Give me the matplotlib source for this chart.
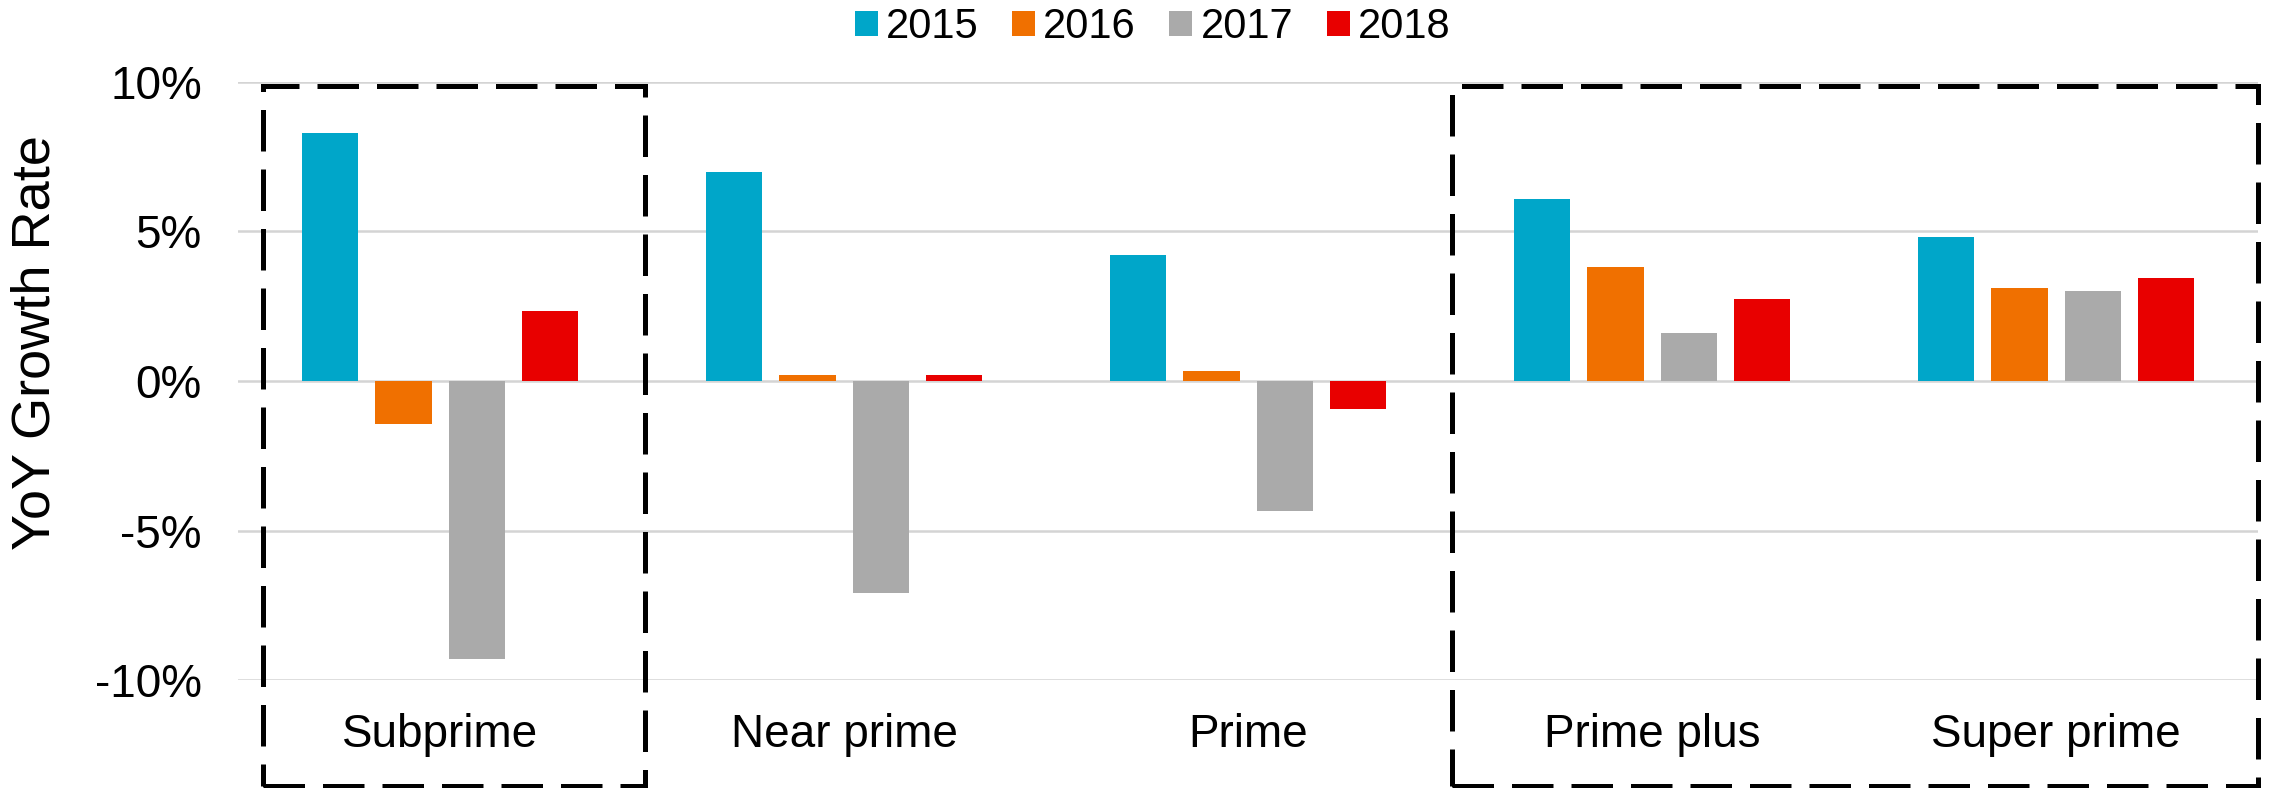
import matplotlib

matplotlib.use("Agg")
import matplotlib.pyplot as plt
import numpy as np
from matplotlib.patches import Rectangle
from matplotlib.ticker import FuncFormatter

plt.rcParams["font.family"] = ["Liberation Sans", "DejaVu Sans"]

categories = ["Subprime", "Near prime", "Prime", "Prime plus", "Super prime"]
years = ["2015", "2016", "2017", "2018"]
colors = ["#00A6C9", "#F07000", "#AAAAAA", "#E80000"]

# YoY growth, percent
g2015 = [8.3, 7.0, 4.2, 6.1, 4.8]
g2016 = [-1.45, 0.2, 0.32, 3.8, 3.1]
g2017 = [-9.3, -7.1, -4.35, 1.6, 3.0]
g2018 = [2.35, 0.2, -0.95, 2.75, 3.45]
series = [g2015, g2016, g2017, g2018]

# dashed highlight boxes: (first category, last category)
highlights = [(0, 0), (3, 4)]

fig = plt.figure(figsize=(22.69, 7.88), dpi=100)
ax = fig.add_axes([0.1049, 0.137, 0.8903, 0.759])

x = np.arange(len(categories))
width, step = 0.139, 0.181
for i, (vals, year, c) in enumerate(zip(series, years, colors)):
    ax.bar(x + (i - 1.5) * step, vals, width, color=c, label=year, zorder=3)

ax.set_xlim(-0.5, len(categories) - 0.5)
ax.set_ylim(-10, 10)
ax.set_yticks([-10, -5, 0, 5, 10])
ax.yaxis.set_major_formatter(FuncFormatter(lambda v, _: f"{v:.0f}%"))
ax.set_xticks(x)
ax.set_xticklabels(categories)
ax.grid(axis="y", color="#D4D4D4", lw=1.8, zorder=0)
ax.tick_params(axis="x", length=0, pad=24, labelsize=33)
ax.tick_params(axis="y", length=0, pad=26, labelsize=33)
for s in ax.spines.values():
    s.set_visible(False)
ax.set_ylabel("YoY Growth Rate", fontsize=39)
ax.yaxis.set_label_coords(-0.088, 0.564)

for a, b in highlights:
    left = a - 0.438 if a == 0 else a - 0.496
    right = b + 0.507 if b < len(categories) - 1 else b + 0.5
    ax.add_patch(Rectangle((left, -13.55), right - left, 9.87 + 13.55,
                           fill=False, ec="black", lw=3.6,
                           ls=(0, (8.3, 3.6)), clip_on=False, zorder=5))

fig.legend(loc="center", bbox_to_anchor=(0.508, 0.966), ncol=4, frameon=False,
           fontsize=30, handlelength=0.55, handleheight=0.55, handletextpad=0.2,
           columnspacing=0.8)

fig.savefig("out.png", dpi=100)
